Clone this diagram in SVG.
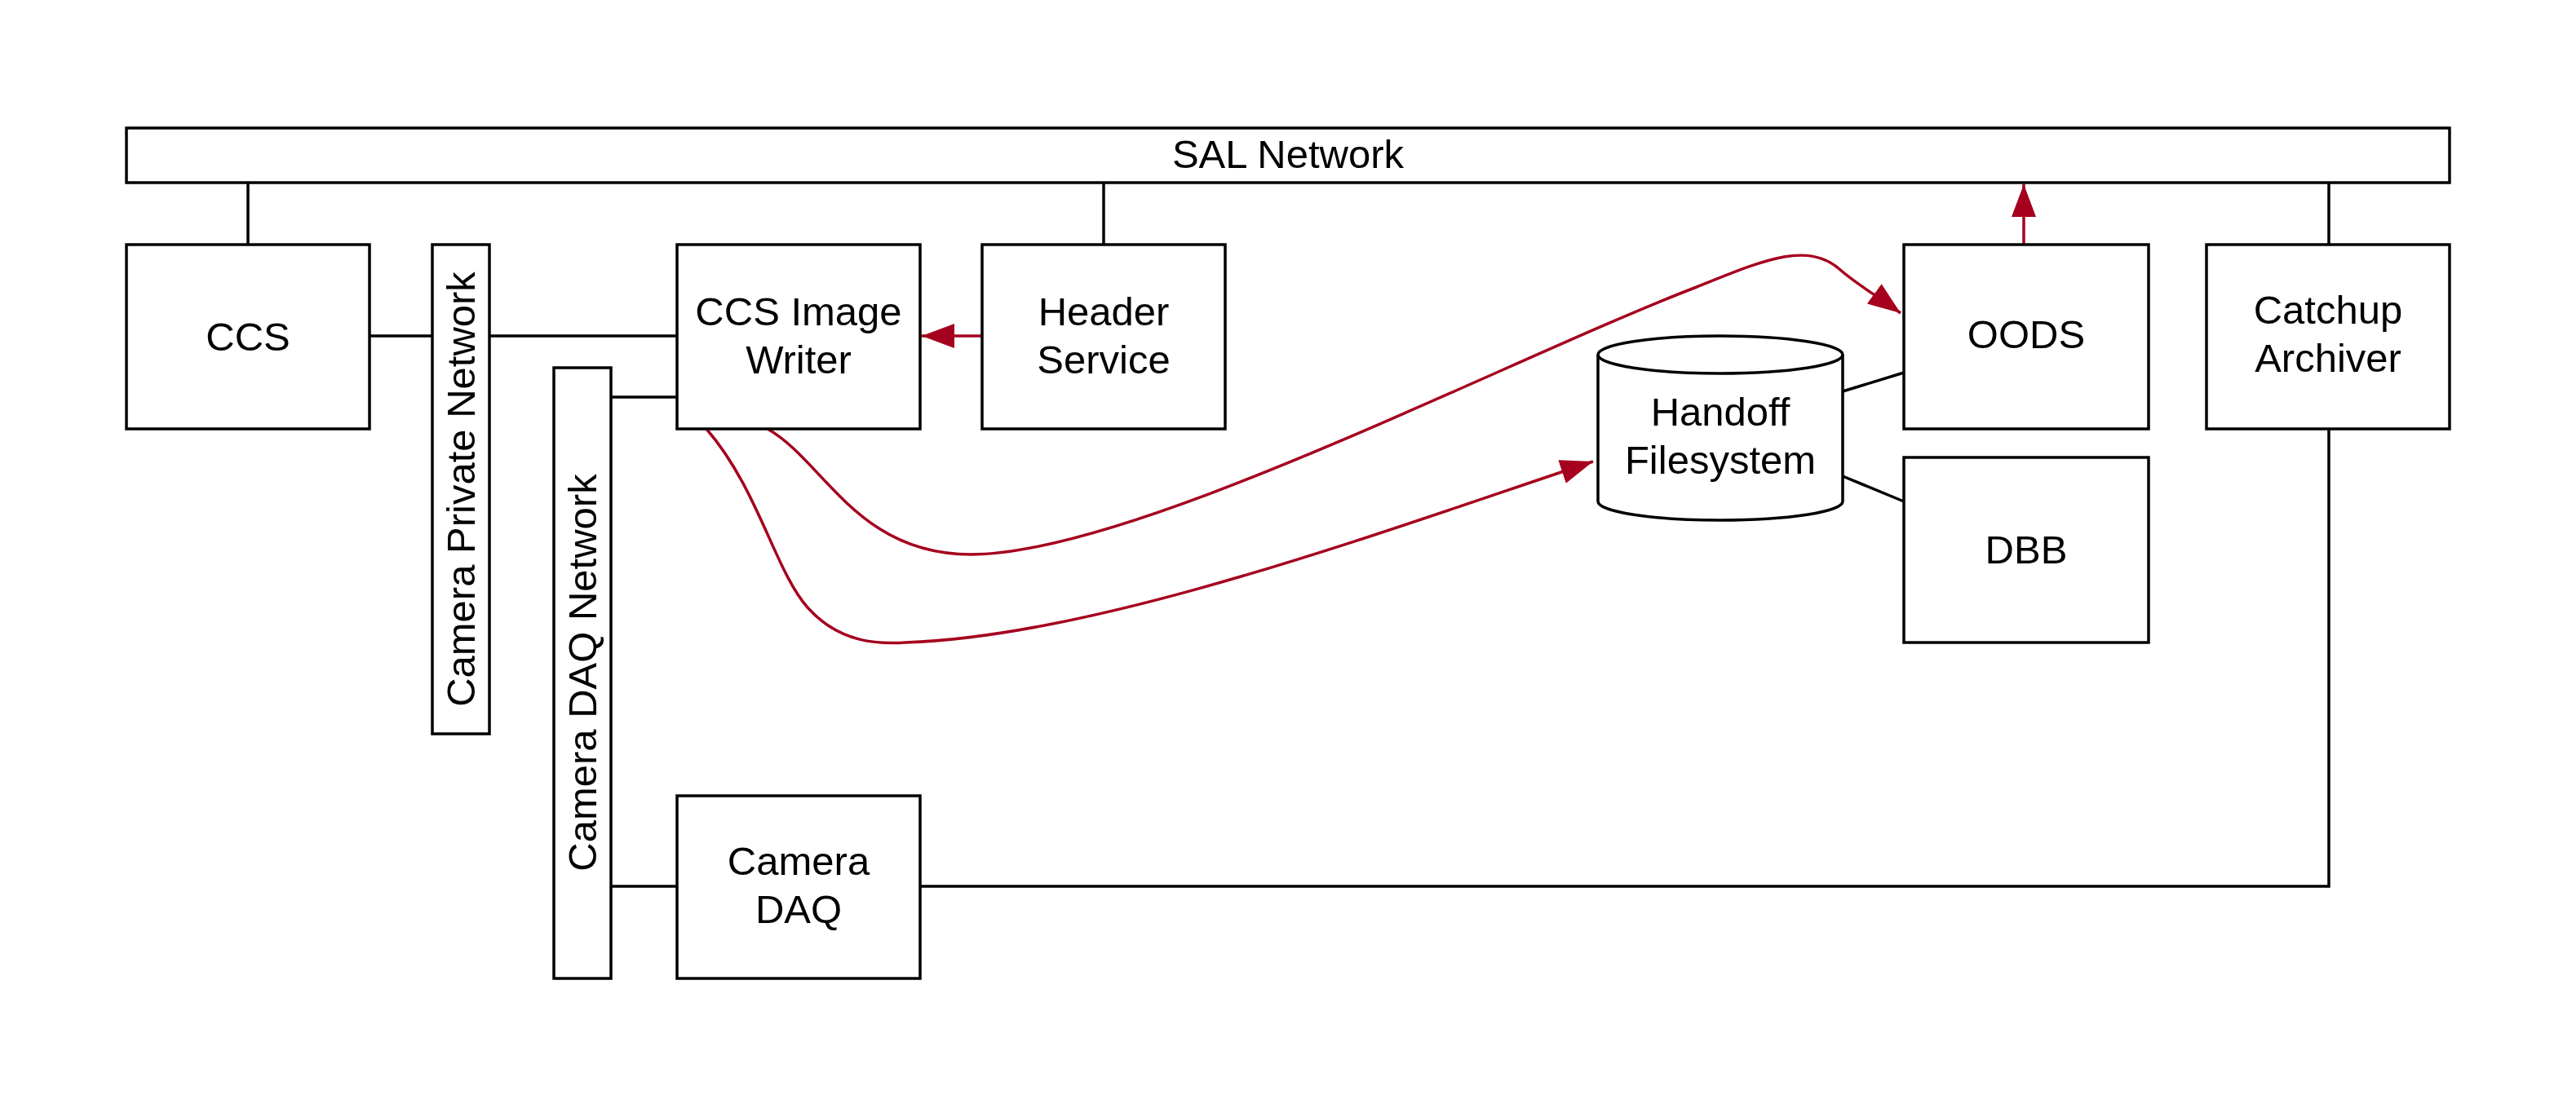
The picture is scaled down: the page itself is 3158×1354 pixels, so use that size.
<svg xmlns="http://www.w3.org/2000/svg" width="3158" height="1354" viewBox="0 0 3158 1354">
<style>
.box{fill:#fff;stroke:#000;stroke-width:3.5}
.ln{fill:none;stroke:#000;stroke-width:3.5}
.red{fill:none;stroke:#A5001E;stroke-width:3.5}
text{font-family:"Liberation Sans",Arial,Helvetica,sans-serif;font-size:49px;fill:#000;text-anchor:middle}
</style>
<defs>
<marker id="ah" markerUnits="userSpaceOnUse" markerWidth="42" markerHeight="32" refX="40" refY="15" orient="auto" viewBox="0 0 42 32">
<path d="M0,0 L40,15 L0,30 Z" fill="#A5001E"/>
</marker>
</defs>
<rect width="3158" height="1354" fill="#fff"/>
<g id="connectors">
<line class="ln" x1="304" y1="224" x2="304" y2="300"/>
<line class="ln" x1="1353" y1="224" x2="1353" y2="300"/>
<line class="ln" x1="2855" y1="224" x2="2855" y2="300"/>
<line class="ln" x1="453" y1="412" x2="530" y2="412"/>
<line class="ln" x1="600" y1="412" x2="830" y2="412"/>
<line class="ln" x1="749" y1="487" x2="830" y2="487"/>
<line class="ln" x1="749" y1="1087" x2="830" y2="1087"/>
<polyline class="ln" points="1126,1087 2855,1087 2855,526"/>
<line class="ln" x1="2259" y1="480" x2="2334" y2="457"/>
<line class="ln" x1="2259" y1="584" x2="2334" y2="615"/>
<line class="red" x1="1204" y1="412" x2="1130" y2="412" marker-end="url(#ah)"/>
<line class="red" x1="2481" y1="300" x2="2481" y2="226" marker-end="url(#ah)"/>
<path class="red" d="M866 526 C930 600 950 700 990 745 C1030 790 1080 790 1110 788 C1350 780 1700 650 1953 566" marker-end="url(#ah)"/>
<path class="red" d="M941 526 C1010 565 1050 680 1190 680 C1390 680 1850 440 2080 352 C2160 320 2215 295 2255 330 C2275 348 2300 362 2330 384" marker-end="url(#ah)"/>
</g>
<g id="sal-network">
<rect class="box" x="155" y="157" width="2848" height="67"/>
<text x="1579" y="206">SAL Network</text>
</g>
<g id="ccs">
<rect class="box" x="155" y="300" width="298" height="226"/>
<text x="304" y="430">CCS</text>
</g>
<g id="camera-private-network">
<rect class="box" x="530" y="300" width="70" height="600"/>
<text transform="translate(582,600) rotate(-90)">Camera Private Network</text>
</g>
<g id="ccs-image-writer">
<rect class="box" x="830" y="300" width="298" height="226"/>
<text x="979" y="399">CCS Image</text>
<text x="979" y="458">Writer</text>
</g>
<g id="header-service">
<rect class="box" x="1204" y="300" width="298" height="226"/>
<text x="1353" y="399">Header</text>
<text x="1353" y="458">Service</text>
</g>
<g id="camera-daq-network">
<rect class="box" x="679" y="451" width="70" height="749"/>
<text transform="translate(731,825) rotate(-90)">Camera DAQ Network</text>
</g>
<g id="camera-daq">
<rect class="box" x="830" y="976" width="298" height="224"/>
<text x="979" y="1073">Camera</text>
<text x="979" y="1132">DAQ</text>
</g>
<g id="handoff-filesystem">
<path class="box" d="M1959 435 A150 23 0 0 1 2259 435 L2259 615 A150 23 0 0 1 1959 615 Z"/>
<path class="ln" d="M1959 435 A150 23 0 0 0 2259 435"/>
<text x="2109" y="522">Handoff</text>
<text x="2109" y="581">Filesystem</text>
</g>
<g id="oods">
<rect class="box" x="2334" y="300" width="300" height="226"/>
<text x="2484" y="427">OODS</text>
</g>
<g id="dbb">
<rect class="box" x="2334" y="561" width="300" height="227"/>
<text x="2484" y="691">DBB</text>
</g>
<g id="catchup-archiver">
<rect class="box" x="2705" y="300" width="298" height="226"/>
<text x="2854" y="397">Catchup</text>
<text x="2854" y="456">Archiver</text>
</g>
</svg>
